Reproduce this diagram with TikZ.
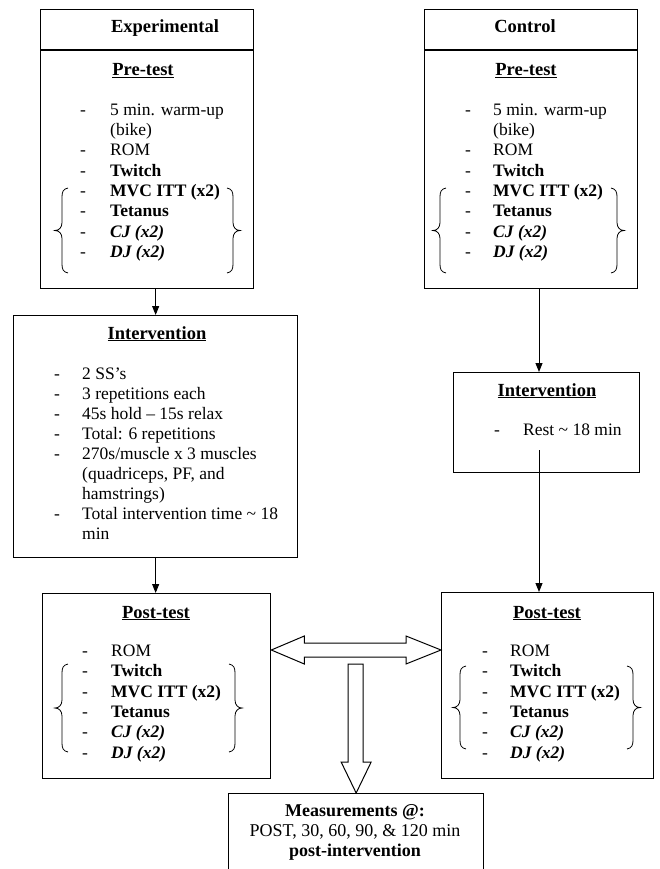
\documentclass[tikz,border=0pt]{standalone}
\usepackage{fontspec}
\setmainfont{Liberation Serif}
\usetikzlibrary{arrows.meta,calc}
\newcommand\mybrL[3]{%
 \draw[brc] ({#1+6},#2) .. controls ({#1+1},{#2+1}) and (#1,{#2+4}) .. (#1,{#2+9})
  -- (#1,{(#2+#3)/2-8}) .. controls (#1,{(#2+#3)/2-3}) and ({#1-3},{(#2+#3)/2}) .. ({#1-7},{(#2+#3)/2})
  .. controls ({#1-3},{(#2+#3)/2}) and (#1,{(#2+#3)/2+3}) .. (#1,{(#2+#3)/2+8})
  -- (#1,{#3-9}) .. controls (#1,{#3-4}) and ({#1+1},{#3-1}) .. ({#1+6},#3);}
\newcommand\mybrR[3]{%
 \draw[brc] ({#1-6},#2) .. controls ({#1-1},{#2+1}) and (#1,{#2+4}) .. (#1,{#2+9})
  -- (#1,{(#2+#3)/2-8}) .. controls (#1,{(#2+#3)/2-3}) and ({#1+3},{(#2+#3)/2}) .. ({#1+7},{(#2+#3)/2})
  .. controls ({#1+3},{(#2+#3)/2}) and (#1,{(#2+#3)/2+3}) .. (#1,{(#2+#3)/2+8})
  -- (#1,{#3-9}) .. controls (#1,{#3-4}) and ({#1-1},{#3-1}) .. ({#1-6},#3);}
% entry: name, dash x, text x, baseline y, content
\newcommand\myentry[5]{%
 \node[txt,anchor=base] (#1d) at (#2,#4) {-};
 \node[txt,anchor=base west] (#1) at (#3,#4) {#5};}
\begin{document}
\begin{tikzpicture}[x=1pt,y=-1pt,
  box/.style={draw,line width=1.3pt,inner sep=0pt,anchor=north west},
  txt/.style={font=\fontsize{17.5}{20}\selectfont,inner sep=0pt},
  head/.style={font=\fontsize{18.5}{22}\selectfont\bfseries,inner sep=0pt,anchor=base},
  conn/.style={line width=1pt,-{Triangle[width=7pt,length=9pt]}},
  brc/.style={line width=0.8pt},
  blk/.style={line width=1pt,line join=miter}]
\useasboundingbox (0,0) rectangle (660,869);
\clip (0,0) rectangle (660,869);

% boxes
\node[box,minimum width=213pt,minimum height=279pt] (exp) at (40,9) {};
\node[box,minimum width=213pt,minimum height=279pt] (ctl) at (424,9) {};
\node[box,minimum width=284pt,minimum height=242pt] (expint) at (13,315) {};
\node[box,minimum width=186pt,minimum height=100pt] (ctlint) at (453,372) {};
\node[box,minimum width=228pt,minimum height=185pt] (exppost) at (42,593) {};
\node[box,minimum width=212pt,minimum height=186pt] (ctlpost) at (441,592) {};
\node[box,minimum width=255pt,minimum height=100pt] (meas) at (228,793) {};

% header dividers
\coordinate (hdiv) at (0,50);
\draw[line width=1.3pt] (exp.west |- hdiv) -- (exp.east |- hdiv);
\draw[line width=1.3pt] (ctl.west |- hdiv) -- (ctl.east |- hdiv);

% headings
\node[head] (hexp) at (165,33) {Experimental};
\node[head] (hctl) at (525,33) {Control};
\node[head] (hpre1) at (143,76) {\underline{Pre-test}};
\node[head] (hpre2) at (526,76) {\underline{Pre-test}};
\node[head] (hint1) at (157,339) {\underline{Intervention}};
\node[head] (hint2) at (547,396) {\underline{Intervention}};
\node[head] (hpost1) at (156,618) {\underline{Post-test}};
\node[head] (hpost2) at (547,618) {\underline{Post-test}};

% experimental pre-test
\myentry{ea1}{83}{110}{116}{5 min. warm-up}
\node[txt,anchor=base west] (ea1b) at (110,136) {(bike)};
\myentry{ea2}{83}{110}{156}{ROM}
\myentry{ea3}{83}{110}{176}{\textbf{Twitch}}
\myentry{ea4}{83}{110}{196}{\textbf{MVC ITT (x2)}}
\myentry{ea5}{83}{110}{216}{\textbf{Tetanus}}
\myentry{ea6}{83}{110}{237}{\textbf{\textit{CJ (x2)}}}
\myentry{ea7}{83}{110}{257}{\textbf{\textit{DJ (x2)}}}
\mybrL{62}{188}{273}
\mybrR{233}{188}{273}

% control pre-test
\myentry{ca1}{468}{493}{116}{5 min. warm-up}
\node[txt,anchor=base west] (ca1b) at (493,136) {(bike)};
\myentry{ca2}{468}{493}{156}{ROM}
\myentry{ca3}{468}{493}{176}{\textbf{Twitch}}
\myentry{ca4}{468}{493}{196}{\textbf{MVC ITT (x2)}}
\myentry{ca5}{468}{493}{216}{\textbf{Tetanus}}
\myentry{ca6}{468}{493}{237}{\textbf{\textit{CJ (x2)}}}
\myentry{ca7}{468}{493}{257}{\textbf{\textit{DJ (x2)}}}
\mybrL{440}{188}{273}
\mybrR{617}{188}{273}

% experimental intervention
\myentry{eb1}{57}{82}{379}{2 SS’s}
\myentry{eb2}{57}{82}{399}{3 repetitions each}
\myentry{eb3}{57}{82}{419}{45s hold – 15s relax}
\myentry{eb4}{57}{82}{439}{Total: 6 repetitions}
\myentry{eb5}{57}{82}{459}{270s/muscle x 3 muscles}
\node[txt,anchor=base west] (eb5b) at (82,479) {(quadriceps, PF, and};
\node[txt,anchor=base west] (eb5c) at (82,499) {hamstrings)};
\myentry{eb6}{57}{82}{519}{Total intervention time \textasciitilde{} 18}
\node[txt,anchor=base west] (eb6b) at (82,539) {min};

% control intervention
\myentry{cb1}{497}{523}{435}{Rest \textasciitilde{} 18 min}

% experimental post-test
\myentry{ec1}{85}{111}{656}{ROM}
\myentry{ec2}{85}{111}{676}{\textbf{Twitch}}
\myentry{ec3}{85}{111}{697}{\textbf{MVC ITT (x2)}}
\myentry{ec4}{85}{111}{717}{\textbf{Tetanus}}
\myentry{ec5}{85}{111}{737}{\textbf{\textit{CJ (x2)}}}
\myentry{ec6}{85}{111}{758}{\textbf{\textit{DJ (x2)}}}
\mybrL{62}{664}{752}
\mybrR{235}{664}{752}

% control post-test
\myentry{cc1}{485}{510}{656}{ROM}
\myentry{cc2}{485}{510}{676}{\textbf{Twitch}}
\myentry{cc3}{485}{510}{697}{\textbf{MVC ITT (x2)}}
\myentry{cc4}{485}{510}{717}{\textbf{Tetanus}}
\myentry{cc5}{485}{510}{737}{\textbf{\textit{CJ (x2)}}}
\myentry{cc6}{485}{510}{758}{\textbf{\textit{DJ (x2)}}}
\mybrL{460}{666}{749}
\mybrR{633}{666}{749}

% measurements
\node[txt,anchor=base,font=\fontsize{18}{20}\selectfont\bfseries] (m1) at (355,816) {Measurements @:};
\node[txt,anchor=base,font=\fontsize{18}{20}\selectfont] (m2) at (355,836) {POST, 30, 60, 90, \& 120 min};
\node[txt,anchor=base,font=\fontsize{18}{20}\selectfont\bfseries] (m3) at (355,856) {post-intervention};

% connectors
\draw[conn] (exp.south -| expint.north) -- (expint.north);
\draw[conn] (expint.south) -- (expint.south |- exppost.north);
\coordinate (cx) at (539,0);
\coordinate (cstart) at (539,450);
\draw[conn] (ctl.south -| cx) -- (ctlint.north -| cx);
\draw[conn] (cstart) -- (ctlpost.north -| cx);

% block arrows
\coordinate (arrowy) at (0,650);
\coordinate (La) at (exppost.east |- arrowy);
\coordinate (Ra) at (ctlpost.west |- arrowy);
\draw[blk] (La) -- ++(33,-14) -- ++(0,7) -- ($(Ra)+(-35,-7)$) -- ++(0,-7) -- (Ra)
  -- ++(-35,14) -- ++(0,-7) -- ($(La)+(33,7)$) -- ++(0,7) -- cycle;
\draw[blk] (meas.north) -- ++(-15,-31) -- ++(7,0) -- ++(0,-98) -- ++(15,0)
  -- ++(0,98) -- ++(8,0) -- cycle;
\end{tikzpicture}
\end{document}
